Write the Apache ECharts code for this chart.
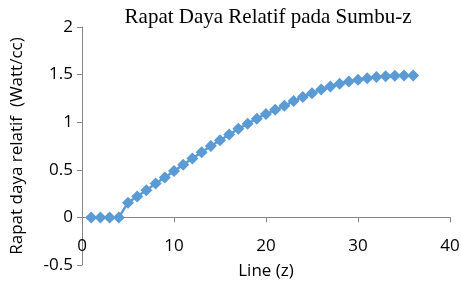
<!DOCTYPE html>
<html>
<head>
<meta charset="utf-8">
<script src="https://cdn.jsdelivr.net/npm/echarts@6/dist/echarts.min.js"></script>
<style>
  html, body { margin: 0; padding: 0; background: #fff; }
  #chart { width: 461px; height: 282px; }
</style>
</head>
<body>
<div id="chart"></div>
<script>
// posisi z (line) dan rapat daya relatif
var zLine = [1, 2, 3, 4, 5, 6, 7, 8, 9, 10, 11, 12, 13, 14, 15, 16, 17, 18,
  19, 20, 21, 22, 23, 24, 25, 26, 27, 28, 29, 30, 31, 32, 33, 34, 35, 36];
var rapatDaya = [0, 0, 0, 0, 0.155, 0.22, 0.285, 0.355, 0.42, 0.487, 0.553, 0.62,
  0.685, 0.75, 0.81, 0.87, 0.93, 0.985, 1.037, 1.087, 1.13, 1.172, 1.222, 1.265,
  1.305, 1.343, 1.375, 1.403, 1.428, 1.447, 1.462, 1.474, 1.482, 1.487, 1.49, 1.49];
var xTicks = [0, 10, 20, 30, 40];
var yTicks = [-0.5, 0, 0.5, 1, 1.5, 2];

var gridTop = 27, gridBottom = 17, H = 282;
// garis sumbu x diletakkan di y = 0
var zeroOffset = -(H - gridTop - gridBottom) * (0 - yTicks[0]) / (yTicks[yTicks.length - 1] - yTicks[0]);

var chart = echarts.init(document.getElementById('chart'));
var labelFont = { fontFamily: 'Open Sans', fontSize: 17, color: '#000' };
chart.setOption({
  animation: false,
  title: {
    text: 'Rapat Daya Relatif pada Sumbu-z',
    left: 263, top: 2, textAlign: 'center',
    textStyle: { fontFamily: 'Liberation Serif', fontSize: 21, fontWeight: 'normal', color: '#000' }
  },
  grid: { left: 82, right: 11, top: gridTop, bottom: gridBottom, outerBoundsMode: 'none' },
  xAxis: {
    type: 'value',
    min: xTicks[0], max: xTicks[xTicks.length - 1], interval: 10,
    position: 'bottom', offset: zeroOffset,
    name: 'Line (z)', nameLocation: 'middle', nameGap: 45,
    nameTextStyle: labelFont,
    axisLine: { onZero: false, lineStyle: { color: '#868686', width: 1 } },
    axisTick: { show: true, length: 5, lineStyle: { color: '#868686' } },
    axisLabel: Object.assign({ margin: 20 }, labelFont),
    splitLine: { show: false }
  },
  yAxis: {
    type: 'value',
    min: yTicks[0], max: yTicks[yTicks.length - 1], interval: 0.5,
    name: 'Rapat daya relatif  (Watt/cc)', nameLocation: 'middle', nameGap: 56,
    nameTextStyle: labelFont,
    axisLine: { show: true, lineStyle: { color: '#868686', width: 1 } },
    axisTick: { show: true, length: 5, lineStyle: { color: '#868686' } },
    axisLabel: Object.assign({ margin: 9 }, labelFont),
    splitLine: { show: false }
  },
  series: [{
    type: 'line',
    data: zLine.map(function (z, i) { return [z, rapatDaya[i]]; }),
    symbol: 'diamond', symbolSize: 12,
    lineStyle: { color: '#5b9bd5', width: 2.5 },
    itemStyle: { color: '#5b9bd5' }
  }]
});
</script>
</body>
</html>
